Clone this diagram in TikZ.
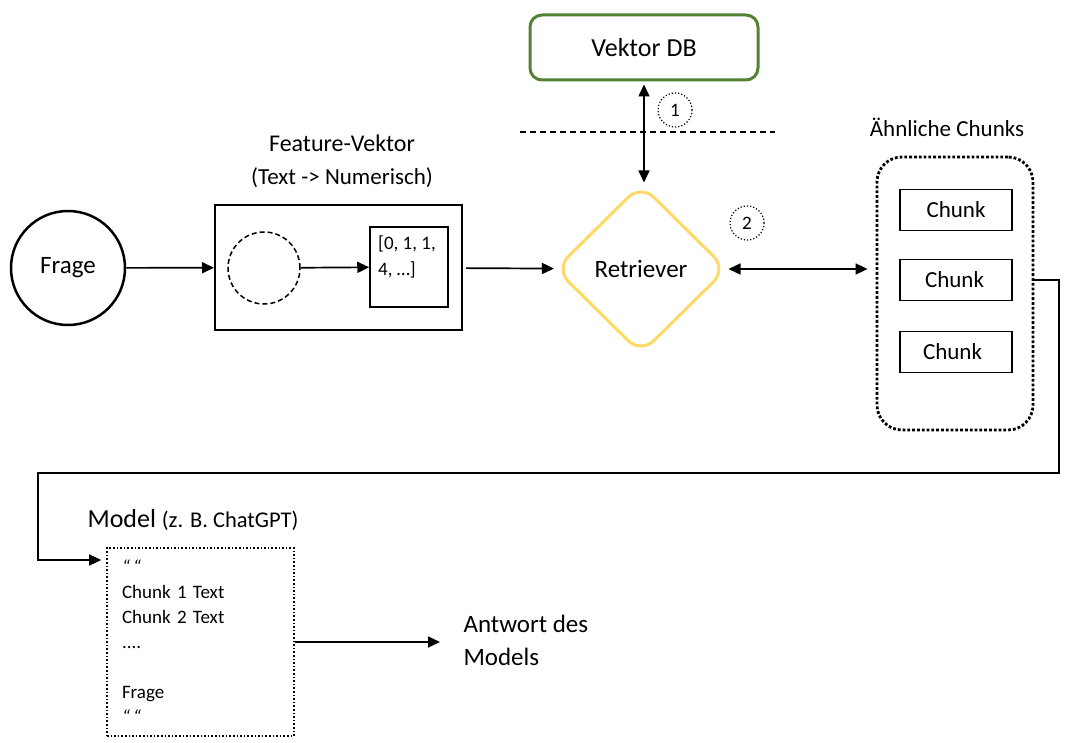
\documentclass[tikz,border=0pt]{standalone}
\usepackage{fontspec}
\setmainfont{Carlito}
\usetikzlibrary{positioning, arrows.meta, shapes.geometric}
\definecolor{dbgreen}{HTML}{548235}
\definecolor{retyellow}{HTML}{FFD966}

\begin{document}
\begin{tikzpicture}[x=1pt, y=-1pt,
        arr/.style={-{Triangle[length=12pt,width=11pt]}, line width=1.7pt},
        dblarr/.style={{Triangle[length=12pt,width=11pt]}-{Triangle[length=12pt,width=11pt]}, line width=1.7pt},
        chunkbox/.style={draw, line width=1.5pt, minimum width=112pt, minimum height=41pt, font=\fontsize{23}{27}\selectfont},
        stepnum/.style={circle, draw, dotted, line width=1.2pt, minimum size=34pt, inner sep=0pt, font=\fontsize{19}{22}\selectfont}]
    \useasboundingbox (0,0) rectangle (1067,743);
    % Frage und Feature-Vektor
    \node[circle, draw, line width=2.5pt, minimum size=114pt, font=\fontsize{25}{29}\selectfont] (frage) at (68,268) {Frage};
    \node[draw, line width=2pt, minimum width=247pt, minimum height=125pt] (feat) at (338.5,267.5) {};
    \node[align=center, font=\fontsize{23}{33}\selectfont] (featlabel) at (342,161) {{\fontsize{24}{33}\selectfont Feature-Vektor}\\(Text -> Numerisch)};
    \node[circle, draw, line width=1.5pt, dash pattern=on 5pt off 3pt, minimum size=72pt] (enc) at (264,268) {};
    \node[draw, line width=1.5pt, minimum width=78pt, minimum height=80pt] (vec) at (409,267) {};
    \node[anchor=north west, align=left, inner sep=0pt, font=\fontsize{19}{26}\selectfont] (vectxt) at (378,236) {[0, 1, 1,\\4, …]};
    \draw[arr] (frage) -- (feat);
    \draw[arr] (enc) -- (vec);
    % Retriever und Vektor DB
    \node[draw=dbgreen, line width=3pt, rounded corners=12pt, minimum width=228pt, minimum height=65pt, font=\fontsize{26}{30}\selectfont] (vdb) at (644,47.5) {Vektor DB};
    \node[diamond, draw=retyellow, line width=3pt, rounded corners=18pt, minimum width=172pt, minimum height=170pt, inner sep=0pt, font=\fontsize{25}{29}\selectfont] (ret) at (641,269) {Retriever};
    \coordinate (cutL) at (520,132);
    \coordinate (cutR) at (775,132);
    \draw[line width=1.5pt, dash pattern=on 6pt off 4pt] (cutL) -- (cutR);
    \draw[dblarr, shorten <=3pt] (vdb.south) -- (vdb.south |- ret.north);
    \draw[arr, shorten <=3pt] (feat) -- (ret);
    \node[stepnum] (s1) at (675,110) {1};
    \node[stepnum] (s2) at (747,223) {2};
    % Aehnliche Chunks
    \node[draw, rounded corners=25pt, line width=2.8pt, dotted, minimum width=156pt, minimum height=273pt] (grp) at (955,293.5) {};
    \node[font=\fontsize{23}{27}\selectfont] (grplabel) at (947,127) {Ähnliche Chunks};
    \foreach \n/\y/\dx in {1/210/0, 2/280/-3, 3/352/-7}
        \node[chunkbox, text width=62pt, align=center] (c\n) at (956,\y) {\hspace*{\dx pt}Chunk};
    \draw[dblarr, shorten >=8pt] (ret.east) -- (ret.east -| grp.west);
    % Model
    \node[draw, dotted, line width=1.6pt, minimum width=187pt, minimum height=188pt, text width=157pt, align=left, font=\fontsize{19}{25}\selectfont] (prompt) at (200.5,642) {\textit{“\,“}\\Chunk 1 Text\\Chunk 2 Text\\....\\[25pt]Frage\\\textit{“\,“}};
    \node[anchor=west, font=\fontsize{26}{30}\selectfont] (modellabel) at (84,520) {Model {\fontsize{22.5}{25}\selectfont (z. B. ChatGPT)}};
    \node[anchor=west, align=left, font=\fontsize{25}{33}\selectfont] (answer) at (460,640) {Antwort des\\Models};
    \coordinate (turnR) at (1059,473);
    \coordinate (turnL) at (38,473);
    \coordinate (inY) at (0,560);
    \draw[arr, line width=1.4pt, shorten >=5pt] (grp.east |- c2) -| (turnR) -- (turnL) |- (prompt.west |- inY);
    \draw[arr, shorten >=20pt] (prompt.east) -- (prompt.east -| answer.west);
\end{tikzpicture}
\end{document}
